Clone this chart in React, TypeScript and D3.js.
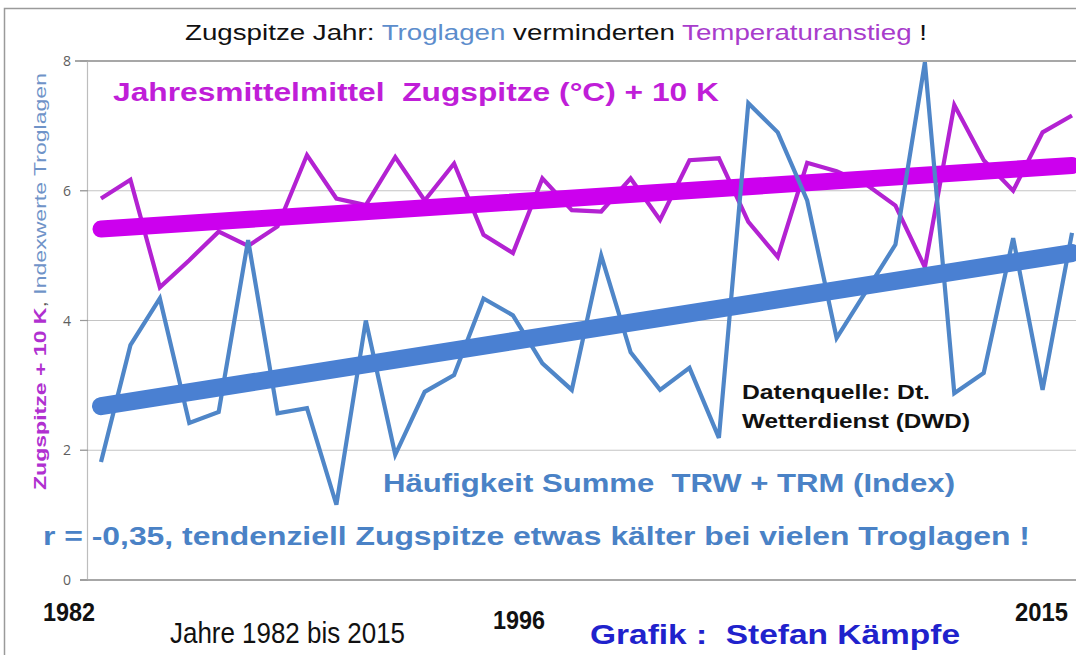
import React, { useEffect, useRef } from "react";
import * as d3 from "d3";

// Jahre 1982 bis 2015
const years = [
  1982, 1983, 1984, 1985, 1986, 1987, 1988, 1989, 1990, 1991, 1992, 1993,
  1994, 1995, 1996, 1997, 1998, 1999, 2000, 2001, 2002, 2003, 2004, 2005,
  2006, 2007, 2008, 2009, 2010, 2011, 2012, 2013, 2014, 2015,
];

// Jahresmittel Zugspitze (°C) + 10 K
const tempPlus10 = [
  5.88, 6.17, 4.51, 4.93, 5.37, 5.15, 5.45, 6.55, 5.88, 5.78, 6.52, 5.85,
  6.42, 5.32, 5.04, 6.19, 5.7, 5.68, 6.19, 5.55, 6.47, 6.5, 5.52, 4.98,
  6.43, 6.3, 6.1, 5.77, 4.82, 7.32, 6.47, 6.0, 6.9, 7.16,
];

// Häufigkeit Summe TRW + TRM (Index)
const trogIndex = [
  1.82, 3.62, 4.34, 2.42, 2.59, 5.24, 2.57, 2.65, 1.16, 4.0, 1.93, 2.9,
  3.16, 4.34, 4.08, 3.34, 2.93, 5.0, 3.51, 2.93, 3.27, 2.19, 7.35, 6.9,
  5.85, 3.73, 4.45, 5.17, 7.98, 2.88, 3.19, 5.27, 2.93, 5.35,
];

// linear trends, start and end value
const tempTrend = [5.41, 6.39];
const trogTrend = [2.68, 5.04];

const yTicks = [0, 2, 4, 6, 8];

const MAGENTA = "#b322d2";
const MAGENTA_TREND = "#cc00ee";
const BLUE = "#4f86c8";
const BLUE_TREND = "#4a80d2";
const FONT = "'Liberation Sans', Arial, sans-serif";

const App = () => {
  const ref = useRef<SVGSVGElement>(null);

  useEffect(() => {
    const svg = d3.select(ref.current);
    svg.selectAll("*").remove();

    const x = d3.scaleLinear().domain([1982, 2015]).range([101, 1072]);
    const y = d3.scaleLinear().domain([0, 8]).range([580, 61]);

    svg.append("rect").attr("width", 1076).attr("height", 655).attr("fill", "white");

    // outer frame
    svg.append("rect")
      .attr("x", 4.5).attr("y", 8.5)
      .attr("width", 1200).attr("height", 800)
      .attr("fill", "none").attr("stroke", "#9a9a9a").attr("stroke-width", 1.5);

    // grid
    svg.selectAll("line.grid")
      .data([2, 4, 6])
      .enter()
      .append("line")
      .attr("x1", 80).attr("x2", 1076)
      .attr("y1", (d) => y(d)).attr("y2", (d) => y(d))
      .attr("stroke", "#c4c4c4").attr("stroke-width", 1.2);

    svg.selectAll("line.border")
      .data([0, 8])
      .enter()
      .append("line")
      .attr("x1", (d) => (d === 8 ? 75 : 80)).attr("x2", 1076)
      .attr("y1", (d) => y(d)).attr("y2", (d) => y(d))
      .attr("stroke", "#8a8a8a").attr("stroke-width", 1.6);

    svg.append("line")
      .attr("x1", 87.5).attr("x2", 87.5)
      .attr("y1", y(8)).attr("y2", y(0))
      .attr("stroke", "#bdbdbd").attr("stroke-width", 1.2);

    svg.selectAll("line.tick")
      .data(yTicks)
      .enter()
      .append("line")
      .attr("x1", 80).attr("x2", 88)
      .attr("y1", (d) => y(d)).attr("y2", (d) => y(d))
      .attr("stroke", "#9a9a9a").attr("stroke-width", 1.2);

    svg.selectAll("text.ytick")
      .data(yTicks)
      .enter()
      .append("text")
      .attr("x", 67).attr("y", (d) => y(d) + 5)
      .attr("text-anchor", "middle")
      .attr("font-family", "'Open Sans', sans-serif")
      .attr("font-size", 14)
      .attr("fill", "#5e5e5e")
      .text((d) => d);

    const line = d3.line<number>()
      .x((d, i) => x(years[i]))
      .y((d) => y(d));

    const trendX = [years[0], years[years.length - 1]];
    const trendLine = d3.line<number>()
      .x((d, i) => x(trendX[i]))
      .y((d) => y(d));

    svg.append("path")
      .attr("d", line(tempPlus10))
      .attr("fill", "none").attr("stroke", MAGENTA)
      .attr("stroke-width", 4.2).attr("stroke-linejoin", "miter");

    svg.append("path")
      .attr("d", trendLine(tempTrend))
      .attr("fill", "none").attr("stroke", MAGENTA_TREND)
      .attr("stroke-width", 17).attr("stroke-linecap", "round");

    svg.append("path")
      .attr("d", line(trogIndex))
      .attr("fill", "none").attr("stroke", BLUE)
      .attr("stroke-width", 4.2).attr("stroke-linejoin", "miter");

    svg.append("path")
      .attr("d", trendLine(trogTrend))
      .attr("fill", "none").attr("stroke", BLUE_TREND)
      .attr("stroke-width", 18).attr("stroke-linecap", "round");

    // the picture is stretched sideways, so every text gets its measured width
    const label = (
      tx: number, ty: number, len: number, size: number,
      weight: string, color: string, str: string
    ) =>
      svg.append("text")
        .attr("x", tx).attr("y", ty)
        .attr("font-family", FONT)
        .attr("font-size", size)
        .attr("font-weight", weight)
        .attr("fill", color)
        .attr("textLength", len)
        .attr("lengthAdjust", "spacingAndGlyphs")
        .style("white-space", "pre")
        .text(str);

    // title
    const title = svg.append("text")
      .attr("x", 185).attr("y", 40)
      .attr("font-family", FONT)
      .attr("font-size", 22)
      .attr("textLength", 742)
      .attr("lengthAdjust", "spacingAndGlyphs")
      .style("white-space", "pre");
    title.append("tspan").attr("fill", "#111").text("Zugspitze Jahr: ");
    title.append("tspan").attr("fill", "#5c8dcc").text("Troglagen");
    title.append("tspan").attr("fill", "#111").text(" verminderten ");
    title.append("tspan").attr("fill", "#a83ccc").text("Temperaturanstieg");
    title.append("tspan").attr("fill", "#111").text(" !");

    label(113, 101, 606, 26, "bold", "#c01ed8", "Jahresmittelmittel  Zugspitze (°C) + 10 K");
    label(383, 492, 572, 26, "bold", "#4a82c6", "Häufigkeit Summe  TRW + TRM (Index)");
    label(43, 545, 987, 26, "bold", "#4a82c6",
      "r = -0,35, tendenziell Zugspitze etwas kälter bei vielen Troglagen !");
    label(742, 399, 188, 20, "bold", "#111", "Datenquelle: Dt.");
    label(742, 428, 228, 20, "bold", "#111", "Wetterdienst (DWD)");

    label(43, 621, 52, 26, "bold", "#111", "1982");
    label(493, 629, 52, 26, "bold", "#111", "1996");
    label(1015, 621, 53, 26, "bold", "#111", "2015");
    label(170, 643, 235, 29, "normal", "#111", "Jahre 1982 bis 2015");
    label(590, 644, 370, 28, "bold", "#1f22cc", "Grafik :  Stefan Kämpfe");

    // rotated y axis title
    const yt = svg.append("text")
      .attr("transform", "translate(46,490) rotate(-90)")
      .attr("font-family", FONT)
      .attr("font-size", 17)
      .attr("textLength", 417)
      .attr("lengthAdjust", "spacingAndGlyphs")
      .style("white-space", "pre");
    yt.append("tspan").attr("fill", "#b030d0").attr("font-weight", "bold").text("Zugspitze + 10 K");
    yt.append("tspan").attr("fill", "#555").text(", ");
    yt.append("tspan").attr("fill", "#6f93c8").text("Indexwerte Troglagen");
  }, []);

  return (
    <svg
      ref={ref}
      width={1076}
      height={655}
      style={{ position: "absolute", left: 0, top: 0 }}
    />
  );
};

export default App;
